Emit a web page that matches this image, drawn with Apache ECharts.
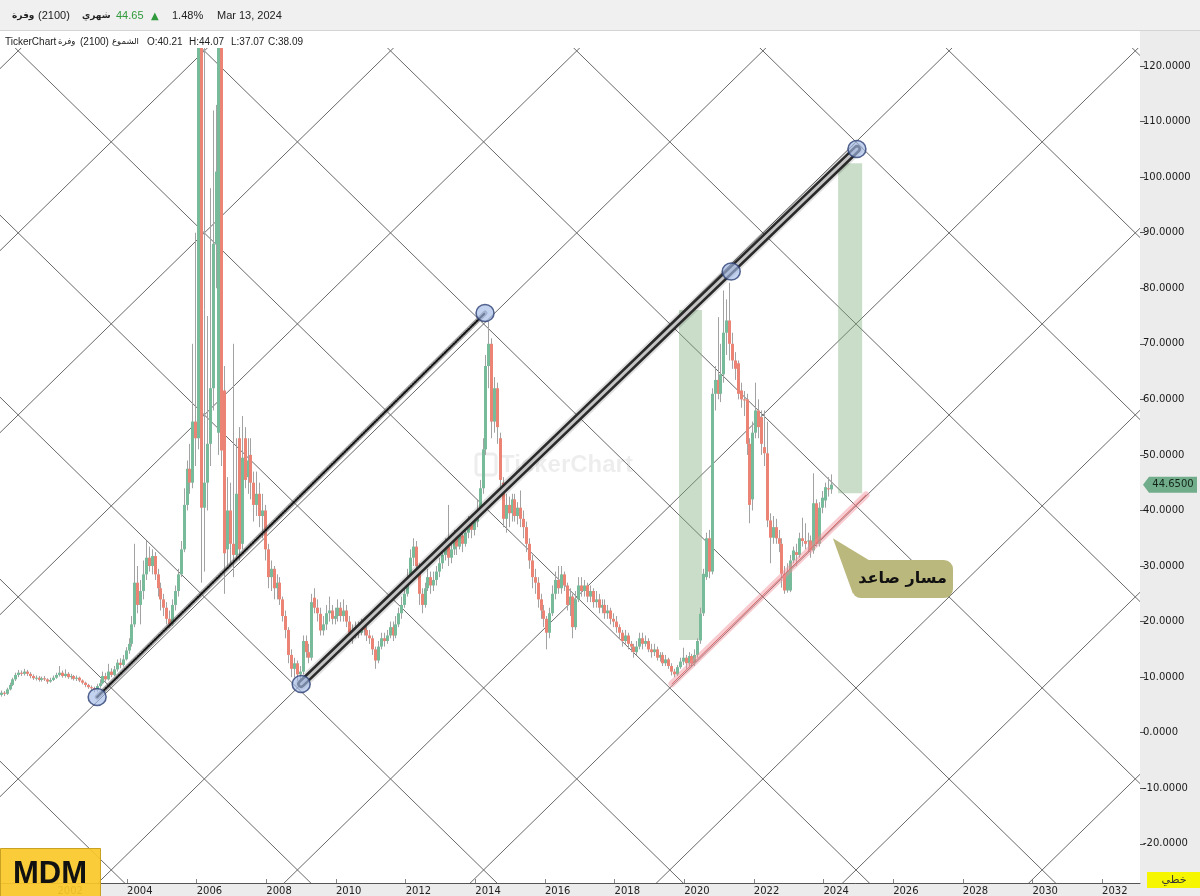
<!DOCTYPE html>
<html>
<head>
<meta charset="utf-8">
<script src="https://cdn.jsdelivr.net/npm/echarts@6/dist/echarts.min.js"></script>
<style>
html,body{margin:0;padding:0;background:#ececec;}
#chart{width:1200px;height:896px;}
</style>
</head>
<body>
<div id="chart"></div>
<script>
// monthly candles, the first one is May 2000. each row : [open, close, low, high]
var firstMonth = [2000, 5];
var ohlc = [
  // 2000
  [6.8,7.2,6.5,7.6],[7.2,7.0,6.6,7.5],[7.0,7.8,6.8,8.1],[7.8,8.6,7.6,9.0],[8.6,9.6,8.4,9.9],[9.6,10.4,9.3,10.8],[10.4,10.8,10.0,11.3],[10.8,10.6,10.2,11.2],
  // 2001
  [10.6,11.0,10.3,11.5],[11.0,10.6,10.2,11.3],[10.6,10.2,9.8,10.9],[10.2,9.8,9.5,10.5],[9.8,9.9,9.4,10.3],[9.9,9.5,9.2,10.2],[9.5,9.8,9.2,10.1],[9.8,9.6,9.3,10.2],[9.6,9.2,8.8,9.8],[9.2,9.5,9.0,9.9],[9.5,9.9,9.3,10.3],[9.9,10.4,9.7,10.8],
  // 2002
  [10.4,10.8,10.1,12.0],[10.8,10.2,9.9,11.2],[10.2,10.6,9.9,11.4],[10.6,10.0,9.7,10.9],[10.0,10.2,9.6,10.6],[10.2,9.7,9.4,10.4],[9.7,9.9,9.3,10.3],[9.9,9.4,9.1,10.1],[9.4,9.0,8.7,9.6],[9.0,8.6,8.2,9.2],[8.6,8.2,7.9,8.8],[8.2,8.0,7.6,8.5],
  // 2003
  [8.0,7.7,7.3,8.3],[7.7,8.4,7.4,8.8],[8.4,8.9,8.1,9.6],[8.9,10.2,8.7,11.0],[10.2,9.6,9.2,10.8],[9.6,11.0,9.4,12.4],[11.0,10.4,10.0,11.6],[10.4,11.4,10.2,12.0],[11.4,12.6,11.0,13.2],[12.6,12.2,11.6,13.4],[12.2,13.2,11.9,14.0],[13.2,14.8,13.0,15.4],
  // 2004
  [14.8,16.0,14.2,17.0],[16.0,19.5,15.5,21.0],[19.5,27.0,19.0,34.0],[27.0,23.0,21.5,30.0],[23.0,25.5,19.5,27.5],[25.5,28.5,24.0,31.0],[28.5,31.5,27.5,34.5],[31.5,30.0,29.0,33.5],[30.0,31.8,28.5,33.0],[31.8,28.5,27.5,32.5],[28.5,26.0,24.5,29.5],[26.0,24.0,22.0,27.0],
  // 2005
  [24.0,22.5,21.0,25.0],[22.5,20.5,19.5,23.5],[20.5,19.5,18.9,22.0],[19.5,23.0,19.2,24.0],[23.0,25.5,22.0,26.5],[25.5,28.5,24.5,29.5],[28.5,33.0,28.0,34.5],[33.0,41.0,32.5,44.0],[41.0,47.5,40.0,49.0],[47.5,45.0,43.0,52.0],[45.0,56.0,44.0,70.0],[56.0,53.0,48.0,90.0],
  // 2006
  [53,126,51,130],[126,40.5,27,130],[40.5,45,29,126],[45,52,40,75],[52,62,48,98],[62,88,58,112],[88,101,80,113],[54,126,50,130],[126,50.8,48,130],[61.6,32.3,25,66],[33,40,30,46],[40,34,30,45],
  // 2007
  [34,32,28,70],[32,43,31,53],[53,33,31,55],[34,49.5,33,57],[53,45.5,44,55],[46,49,43,53],[50,45,42,53],[45,41,38,47],[41,43,39,47],[43,39,37,45],[39,40,35,43],[40,33,31,41],
  // 2008
  [33,28,26,34],[28,29.5,25.5,31],[29.5,26,24,30],[26,27,24,28.5],[27,24,23,28],[24,21,20,24.5],[21,18.5,17,22],[18.5,14,12.5,19],[14,11.5,10,15],[11.5,12.5,10,13.5],[12.5,10.5,9.3,13],[10.5,11,9.5,12],
  // 2009
  [11,16.5,10.5,17.5],[16.5,14.5,13.5,17.5],[14.5,13.5,12.5,16],[13.5,23.5,13,25],[24.3,22.5,21.5,26],[22.5,21.5,20,24],[21.4,18.4,17.5,22.5],[18.4,19.5,17.5,21],[19.5,21.5,18.5,23],[21.5,22,20,24.5],[22,20.5,19.5,23],[20.5,21,19.5,22.5],
  // 2010
  [21,22.5,20,24],[22.5,21,20,23.5],[21,22,20,24],[22,20,19,23],[20,18,16.5,21],[18,17.5,16,19.5],[17.5,19,17,20],[19,18,17,20],[18,19.5,17.5,20.5],[19.5,18.5,17.5,20.5],[18.5,17.5,16.5,19.5],[17.5,17,16,18.5],
  // 2011
  [17,15,14,17.5],[15,13,11.5,15.5],[13,15.5,12.5,16.5],[15.5,17,15,18],[17,16.5,15.5,18],[16.5,17.5,16,18.5],[17.5,19,17,20],[19,17.5,16.5,20],[17.5,19.5,17,21],[19.5,21.5,19,22.5],[21.5,23,20.5,24.5],[23,25,22.5,27],
  // 2012
  [25,28,24.5,29.5],[28,31.5,27.5,33],[31.5,33.5,30,35],[33.5,30,28.5,34.5],[30,25,23,30.5],[25,23,21.5,26],[23,26,22.5,27],[26,28,25.5,29.5],[28,26.5,25,29],[26.5,27.5,25.5,29],[27.5,29,26.5,30],[29,30.5,28,31.5],
  // 2013
  [30.5,32,29.5,33.5],[32,33.5,31,35],[33.5,31.5,30,41],[31.5,33,30.5,34.5],[33,35,32,36.5],[35,33.5,32,36],[33.5,35.5,33,37],[35.5,34,32.5,37],[34,36,33.5,37.5],[36,37.5,35,39],[37.5,36.5,35,39],[36.5,38,35.5,39.5],
  // 2014
  [38,40,37,42],[40,44,39,45.5],[44,51,43,53],[51,66,50,68],[66,70,62,74],[70,56,53,71],[56,62,54,64],[62,55,52,63],[53,45.5,44,54],[45,38.5,37,46],[38.5,41,36,43],[41,39.5,37,42.5],
  // 2015
  [39.5,42,38,43],[42,39,38,43],[39,40.5,37.5,41.5],[40.5,38.5,37,43.6],[38.5,37,35,40],[37,34,32.5,38],[34,31,29.5,35],[31,28,26,32],[28,27,25,29.5],[27,24,22.5,28],[24,22,20.5,25],[22,20.5,19,23],
  // 2016
  [20.5,18,15,21],[18,21.5,17,22.5],[21.5,25,21,26.5],[25,27.5,24,29],[27.5,26,25,30],[26,28.5,25,30],[28.5,26.5,25.5,29],[26.5,23,22,27],[23,24.5,21,26],[24.5,19,17,25],[19,24,18.5,25.5],[24,26.5,23.5,28],
  // 2017
  [26.5,25.5,24.5,28],[25.5,26.5,24.5,27.5],[26.5,24.5,23.5,27],[24.5,25.5,23.5,26.5],[25.5,23.5,22.5,26],[23.5,24,22.5,25.5],[24,22.5,21.5,25],[22.5,23,21.5,24],[23,21.5,20.5,24],[21.5,22,20.5,23],[22,20.5,19.5,22.5],[20.5,20,19,21.5],
  // 2018
  [20,19,18,21],[19,18,17,19.5],[18,16.5,15.5,18.5],[16.5,17.5,16,18.5],[17.5,16,15,18],[16,15.5,14.5,16.5],[15.5,14.5,13.5,16],[14.5,15.5,14,16.5],[15.5,17,15,18],[17,16,15,18],[16,16.5,15.5,17.5],[16.5,15,14.5,17],
  // 2019
  [15,14.5,13.5,16],[14.5,15,13.8,16],[15,13.5,13,15.5],[13.5,14,12.8,14.5],[14,12.5,12,14.5],[12.5,13.2,12,14],[13.2,12,11.5,13.5],[12,11,10.3,12.5],[11,10.5,10,11.5],[10.5,11.8,10.2,12.2],[11.8,12.8,11.5,13.5],[12.8,13.5,12.2,15.3],
  // 2020
  [13.5,12.5,11.5,14],[12.5,13.8,12,14.5],[13.8,12.5,12,14.2],[12.5,14,12,15],[14,16.5,13.5,17],[16.6,21.4,16,22.5],[21.5,28.6,21,29.5],[28,35,27.5,36],[35,29,27.8,36.5],[29,61,28.5,62],[61,63.5,58,66],[63.5,61,60,74.8],
  // 2021
  [61,64.5,59.5,70],[64.5,72,63,79.6],[72,74.2,68,78],[74.2,70,67,81],[70,67,65.5,72],[67,65.5,63.5,68.5],[66.5,61,60,67],[61.6,60,58.5,63],[60,59.8,57,61.5],[60,52,50,61],[52,41,37.7,53],[42,54,40,56],
  // 2022
  [54,58,53,63],[58,55,53,60],[56.8,52,50,58],[51.4,50.3,48,58],[50.3,38.2,37,56],[38.2,35.1,30.5,39.5],[35.1,37,34,39],[37,35,34,38.5],[35,34,32.5,36.5],[34,28.6,26.1,35],[28.6,25.6,25,30],[25.6,29,25.2,30.5],
  // 2023
  [25.6,31,25.3,32],[31,32.8,30.5,33.5],[32.5,32,30,34],[32,35,31.5,36],[35,34.5,33.5,38.7],[34.5,34,33,37.7],[34.5,34.6,32.5,36],[34.6,32.8,31.5,35.5],[32.8,41.3,32.2,46.7],[41.3,34,33.5,42],[34,40.5,33.5,41.5],[40.5,42.3,39.5,43.5],
  // 2024
  [41.8,44.2,40.5,45],[44,43.8,42.5,46],[43.8,44.65,43,46.5]
];

var yearTicks = [2002, 2004, 2006, 2008, 2010, 2012, 2014, 2016, 2018, 2020, 2022, 2024, 2026, 2028, 2030, 2032];
var priceTicks = [-20, -10, 0, 10, 20, 30, 40, 50, 60, 70, 80, 90, 100, 110, 120];
var lastPrice = 44.65;

// gann grid : one crossing of the grid (year, price) and one cell (years, price)
var gannOrigin = [2030.28, -24.7];
var gannCell = [5.347, 32.76];

// drawn tools (year, price)
var lineA = [[2003.14, 6.43], [2014.28, 75.54]];
var lineB = [[2009.0, 8.77], [2024.96, 105.06]];
var channel = [[2019.65, 8.8], [2025.22, 42.8]];
var pivots = [[2003.14, 6.43], [2014.28, 75.54], [2009.0, 8.77], [2021.35, 83.0], [2024.96, 105.06]];
var boxes = [[2019.85, 16.7, 2020.51, 76.1], [2024.42, 43.1, 2025.11, 102.5]];
var noteTip = [2024.27, 35.0];
var noteAt = [2026.27, 27.66];
var noteText = 'مسار صاعد';

var upColor = '#78bb9a', downColor = '#ec8475', wickColor = '#a2a2a2';

var candles = [];
for (var i = 0; i < ohlc.length; i++) {
    var m = firstMonth[1] - 1 + i;
    candles.push([firstMonth[0] + (m + 0.5) / 12].concat(ohlc[i]));
}

var gannLines = [];
var slope = gannCell[1] / gannCell[0];
for (var k = -8; k <= 13; k++) {
    var base = gannOrigin[1] + k * gannCell[1];
    gannLines.push([1995, base + slope * (1995 - gannOrigin[0]), 2040, base + slope * (2040 - gannOrigin[0])]);
    gannLines.push([1995, base - slope * (1995 - gannOrigin[0]), 2040, base - slope * (2040 - gannOrigin[0])]);
}

function clipOf(cs) {
    return {type: 'rect', shape: {x: cs.x, y: cs.y, width: cs.width, height: cs.height}};
}

function toolLine(data, width, color, z, type) {
    return {
        type: 'line', data: data, symbol: 'none', silent: true, z: z, clip: true,
        lineStyle: {width: width, color: color, type: type || 'solid', cap: 'round'}
    };
}

function label(text, x, y, size, opts) {
    opts = opts || {};
    return {type: 'text', z: 101, x: x, y: y, style: {
        text: text, fontSize: size, fontWeight: opts.bold ? 'bold' : 'normal',
        fontFamily: opts.font || 'Liberation Sans', fill: opts.color || '#222',
        align: opts.align || 'left', verticalAlign: 'middle'
    }};
}

var chart = echarts.init(document.getElementById('chart'));

var option = {
    animation: false,
    backgroundColor: '#ececec',
    grid: {left: 0, right: 60, top: 48, bottom: 13, show: true, backgroundColor: '#ffffff', borderWidth: 0},
    xAxis: {
        type: 'value', min: 2000.35, max: 2033.09,
        splitLine: {show: false},
        axisLine: {show: true, onZero: false, lineStyle: {color: '#555', width: 1}},
        axisTick: {show: true, inside: true, length: 4, lineStyle: {color: '#888'}, customValues: yearTicks},
        axisLabel: {
            customValues: yearTicks, align: 'left', margin: 3,
            fontSize: 10, fontFamily: 'DejaVu Sans', color: '#222',
            formatter: function (v) { return String(Math.round(v)); }
        }
    },
    yAxis: {
        type: 'value', position: 'right', min: -27.05, max: 123.24,
        splitLine: {show: false},
        axisLine: {show: false, onZero: false},
        axisTick: {show: true, length: 5, lineStyle: {color: '#555'}, customValues: priceTicks},
        axisLabel: {
            customValues: priceTicks, margin: 3,
            fontSize: 10, fontFamily: 'DejaVu Sans', color: '#1a1a1a',
            formatter: function (v) { return v.toFixed(4); }
        }
    },
    series: [
        {
            type: 'custom', name: 'gann', silent: true, z: 1,
            data: gannLines, encode: {x: [0, 2], y: [1, 3]},
            renderItem: function (params, api) {
                var a = api.coord([api.value(0), api.value(1)]);
                var b = api.coord([api.value(2), api.value(3)]);
                return {type: 'group', clipPath: clipOf(params.coordSys), children: [
                    {type: 'line', shape: {x1: a[0], y1: a[1], x2: b[0], y2: b[1]}, style: {stroke: '#686868', lineWidth: 1}}
                ]};
            }
        },
        {
            type: 'custom', name: 'boxes', silent: true, z: 2,
            data: boxes, encode: {x: [0, 2], y: [1, 3]},
            renderItem: function (params, api) {
                var a = api.coord([api.value(0), api.value(3)]);
                var b = api.coord([api.value(2), api.value(1)]);
                return {type: 'rect', shape: {x: a[0], y: a[1], width: b[0] - a[0], height: b[1] - a[1]},
                    style: {fill: 'rgba(120,170,120,0.4)'}};
            }
        },
        {
            type: 'custom', name: 'candles', silent: true, z: 3,
            data: candles, encode: {x: 0, y: [1, 2, 3, 4]},
            renderItem: function (params, api) {
                var t = api.value(0), o = api.value(1), c = api.value(2), lo = api.value(3), hi = api.value(4);
                var pTop = api.coord([t, Math.max(o, c)]);
                var pBot = api.coord([t, Math.min(o, c)]);
                var pHi = api.coord([t, hi]);
                var pLo = api.coord([t, lo]);
                var x = Math.round(pTop[0]);
                return {type: 'group', clipPath: clipOf(params.coordSys), children: [
                    {type: 'line', shape: {x1: x + 0.5, y1: pHi[1], x2: x + 0.5, y2: pLo[1]}, style: {stroke: wickColor, lineWidth: 1}},
                    {type: 'rect', shape: {x: x - 1, y: pTop[1], width: 3, height: Math.max(1, pBot[1] - pTop[1])},
                        style: {fill: c >= o ? upColor : downColor}}
                ]};
            }
        },
        toolLine(channel, 7, 'rgba(240,140,150,0.45)', 4),
        toolLine(channel, 1, '#d96a6a', 4),
        toolLine(lineA, 5, 'rgba(90,90,90,0.55)', 5),
        toolLine(lineA, 2, '#111', 5, [1.5, 1.5]),
        toolLine(lineB, 12, 'rgba(0,0,0,0.12)', 5),
        toolLine(lineB, 8, '#2a2a2a', 5),
        toolLine(lineB, 3, '#c4c4c4', 5),
        {
            type: 'scatter', data: pivots, silent: true, z: 6,
            symbol: 'circle', symbolSize: [18, 17],
            itemStyle: {color: 'rgba(160,184,230,0.8)', borderColor: '#2b3e73', borderWidth: 1.5}
        },
        {
            type: 'custom', name: 'note', silent: true, z: 7, clip: false,
            data: [[noteTip[0], noteTip[1], noteAt[0], noteAt[1]]], encode: {x: [0, 2], y: [1, 3]},
            renderItem: function (params, api) {
                var tip = api.coord([api.value(0), api.value(1)]);
                var c = api.coord([api.value(2), api.value(3)]);
                var w = 101, h = 38;
                return {type: 'group', children: [
                    {type: 'polygon', shape: {points: [[tip[0], tip[1]], [c[0] - w / 2 + 20, c[1] - h / 2 + 2], [c[0] - w / 2 + 1, c[1] + h / 2 - 4]]},
                        style: {fill: '#bbb87d'}},
                    {type: 'rect', shape: {x: c[0] - w / 2, y: c[1] - h / 2, width: w, height: h, r: 9}, style: {fill: '#bbb87d'}},
                    {type: 'text', x: c[0], y: c[1], style: {text: noteText, fontSize: 16, fontWeight: 'bold', fontFamily: 'DejaVu Sans',
                        fill: '#111', align: 'center', verticalAlign: 'middle'}}
                ]};
            }
        },
        {
            type: 'custom', name: 'lastTag', silent: true, z: 8, clip: false,
            data: [[candles[candles.length - 1][0], lastPrice]], encode: {x: 0, y: 1},
            renderItem: function (params, api) {
                var p = api.coord([api.value(0), api.value(1)]);
                var x0 = params.coordSys.x + params.coordSys.width, y = p[1];
                return {type: 'group', children: [
                    {type: 'polygon', shape: {points: [[x0 + 3, y], [x0 + 9, y - 8], [x0 + 57, y - 8], [x0 + 57, y + 8], [x0 + 9, y + 8]]},
                        style: {fill: '#71ac8b'}},
                    {type: 'text', x: x0 + 33, y: y, style: {text: lastPrice.toFixed(4), fontSize: 10, fontFamily: 'DejaVu Sans',
                        fill: '#13261a', align: 'center', verticalAlign: 'middle'}}
                ]};
            }
        }
    ],
    graphic: [
        {type: 'rect', z: 100, shape: {x: 0, y: 0, width: 1200, height: 30}, style: {fill: '#f0f0f0'}},
        {type: 'rect', z: 100, shape: {x: 0, y: 30, width: 1200, height: 1}, style: {fill: '#d4d4d4'}},
        {type: 'rect', z: 100, shape: {x: 0, y: 31, width: 1140, height: 17}, style: {fill: '#ffffff'}},
        label('وفرة', 12, 16, 9, {bold: true, font: 'DejaVu Sans'}),
        label('(2100)', 38, 16, 11),
        label('شهري', 82, 16, 9, {bold: true, font: 'DejaVu Sans'}),
        label('44.65', 116, 16, 11, {color: '#2f9a3c'}),
        label('▲', 151, 16, 10, {color: '#2f9a3c', font: 'DejaVu Sans'}),
        label('1.48%', 172, 16, 11),
        label('Mar 13, 2024', 217, 16, 11),
        label('TickerChart', 5, 42, 10),
        label('وفرة', 58, 42, 8.5, {font: 'DejaVu Sans'}),
        label('(2100)', 80, 42, 10),
        label('الشموع', 112, 42, 8.5, {font: 'DejaVu Sans'}),
        label('O:40.21', 147, 42, 10),
        label('H:44.07', 189, 42, 10),
        label('L:37.07', 231, 42, 10),
        label('C:38.09', 268, 42, 10),
        // watermark
        {type: 'rect', z: 1, shape: {x: 476, y: 454, width: 20, height: 21, r: 3}, style: {fill: 'none', stroke: 'rgba(0,0,0,0.07)', lineWidth: 3}},
        {type: 'text', z: 1, x: 500, y: 465, style: {text: 'TickerChart', fontSize: 24, fontWeight: 'bold', fontFamily: 'Liberation Sans', fill: 'rgba(0,0,0,0.07)', verticalAlign: 'middle'}},
        // logo
        {type: 'rect', z: 100, shape: {x: 0.5, y: 848.5, width: 100, height: 48}, style: {fill: 'rgba(250,200,40,0.92)', stroke: '#c9a020', lineWidth: 1}},
        label('MDM', 50, 874, 31, {bold: true, color: '#111', align: 'center'}),
        // chart type box
        {type: 'rect', z: 100, shape: {x: 1147, y: 872, width: 53, height: 16}, style: {fill: '#f6f600'}},
        label('خطي', 1174, 880, 11, {font: 'DejaVu Sans', color: '#333', align: 'center'})
    ]
};

chart.setOption(option);
</script>
</body>
</html>
